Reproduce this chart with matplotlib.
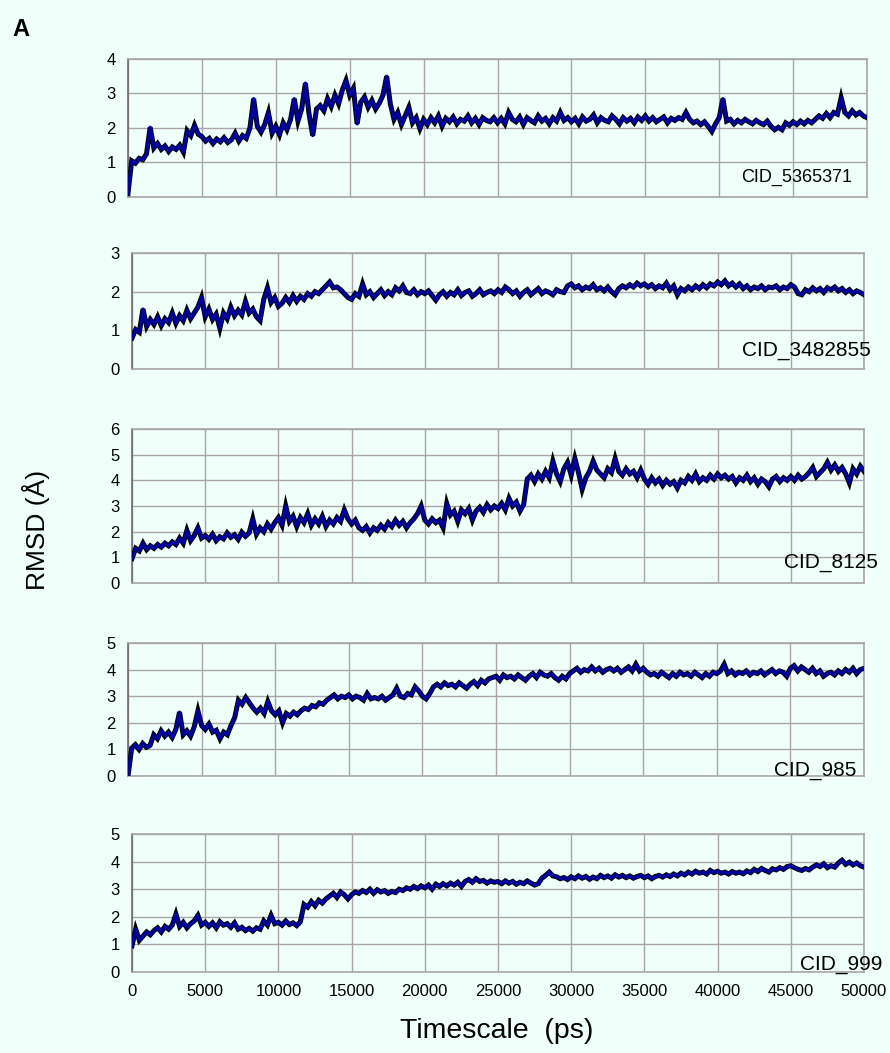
import numpy as np
import matplotlib
matplotlib.use("Agg")
import matplotlib.pyplot as plt

plt.rcParams['font.family'] = ['Liberation Sans', 'DejaVu Sans']

# time axis (ps), 250 ps step
time_ps = np.arange(0, 50001, 250)

cid_5365371 = [
    0.10, 1.05, 0.98, 1.12, 1.08, 1.25, 2.02, 1.42, 1.55, 1.38, 1.48, 1.32, 1.45, 1.38, 1.50, 1.30, 1.92, 1.78, 2.08, 1.82,
    1.75, 1.62, 1.70, 1.55, 1.68, 1.60, 1.72, 1.58, 1.66, 1.85, 1.62, 1.78, 1.70, 2.00, 2.85, 2.05, 1.88, 2.10, 2.45, 1.85,
    2.05, 1.80, 2.15, 1.95, 2.25, 2.85, 2.20, 2.55, 3.30, 2.40, 1.78, 2.55, 2.65, 2.50, 2.85, 2.62, 2.95, 2.70, 3.10, 3.38,
    2.95, 3.15, 2.12, 2.75, 2.90, 2.60, 2.80, 2.55, 2.72, 2.95, 3.50, 2.70, 2.25, 2.45, 2.10, 2.35, 2.60, 2.15, 2.30, 1.98,
    2.25, 2.10, 2.30, 2.15, 2.35, 2.05, 2.28, 2.18, 2.32, 2.12, 2.25, 2.20, 2.35, 2.15, 2.28, 2.10, 2.30, 2.22, 2.18, 2.30,
    2.15, 2.28, 2.12, 2.45, 2.25, 2.18, 2.32, 2.10, 2.30, 2.22, 2.15, 2.35, 2.20, 2.28, 2.12, 2.30, 2.20, 2.45, 2.22, 2.30,
    2.18, 2.28, 2.12, 2.32, 2.20, 2.25, 2.38, 2.15, 2.30, 2.22, 2.18, 2.35, 2.25, 2.12, 2.30, 2.20, 2.28, 2.15, 2.32, 2.22,
    2.35, 2.20, 2.30, 2.18, 2.25, 2.32, 2.15, 2.28, 2.22, 2.30, 2.25, 2.45, 2.25, 2.15, 2.20, 2.10, 2.18, 2.05, 1.90, 2.12,
    2.30, 2.85, 2.20, 2.25, 2.12, 2.22, 2.15, 2.25, 2.18, 2.12, 2.22, 2.15, 2.10, 2.20, 2.05, 1.95, 2.02, 1.95, 2.15, 2.08,
    2.18, 2.10, 2.20, 2.12, 2.22, 2.15, 2.25, 2.35, 2.28, 2.42, 2.30, 2.45, 2.40, 2.88, 2.45, 2.35, 2.50, 2.38, 2.45, 2.35,
    2.30,
]

cid_3482855 = [
    0.80, 1.02, 0.95, 1.55, 1.10, 1.28, 1.15, 1.35, 1.12, 1.30, 1.20, 1.45, 1.18, 1.38, 1.25, 1.52, 1.30, 1.45, 1.60, 1.85,
    1.35, 1.55, 1.28, 1.42, 1.05, 1.45, 1.30, 1.60, 1.38, 1.52, 1.40, 1.75, 1.45, 1.55, 1.35, 1.25, 1.80, 2.10, 1.72, 1.85,
    1.62, 1.70, 1.85, 1.72, 1.90, 1.75, 1.88, 1.80, 1.95, 1.88, 2.00, 1.95, 2.05, 2.15, 2.25, 2.10, 2.12, 2.05, 1.95, 1.85,
    1.80, 1.95, 1.88, 2.20, 1.92, 2.00, 1.85, 1.95, 2.05, 1.90, 2.00, 1.92, 2.10, 2.02, 2.15, 1.98, 1.95, 2.05, 1.92, 2.00,
    1.95, 2.02, 1.90, 1.78, 1.92, 2.00, 1.88, 1.98, 1.92, 2.05, 1.90, 1.98, 2.02, 1.88, 1.95, 2.05, 1.92, 1.98, 2.02, 1.95,
    2.05, 1.98, 2.12, 2.05, 1.95, 2.02, 1.88, 1.98, 2.05, 1.92, 2.00, 2.08, 1.95, 2.02, 1.98, 1.92, 2.05, 2.00, 1.98, 2.15,
    2.20, 2.10, 2.15, 2.05, 2.12, 2.08, 2.18, 2.05, 2.10, 2.02, 2.12, 2.00, 1.92, 2.08, 2.15, 2.10, 2.18, 2.12, 2.22, 2.15,
    2.20, 2.12, 2.18, 2.08, 2.15, 2.10, 2.22, 2.05, 2.15, 1.92, 2.08, 2.02, 2.12, 2.05, 2.15, 2.08, 2.18, 2.10, 2.20, 2.15,
    2.25, 2.18, 2.28, 2.15, 2.22, 2.12, 2.20, 2.08, 2.15, 2.05, 2.12, 2.08, 2.15, 2.05, 2.12, 2.10, 2.15, 2.05, 2.12, 2.08,
    2.18, 2.12, 1.95, 1.92, 2.05, 2.00, 2.10, 2.02, 2.08, 1.98, 2.10, 2.05, 2.12, 2.02, 2.08, 1.98, 2.05, 1.95, 2.02, 1.98,
    1.92,
]

cid_8125 = [
    0.95, 1.35, 1.25, 1.55, 1.30, 1.45, 1.35, 1.50, 1.40, 1.55, 1.45, 1.60, 1.50, 1.75, 1.55, 2.05, 1.65, 1.85, 2.15, 1.75,
    1.85, 1.70, 1.90, 1.65, 1.80, 1.72, 1.95, 1.78, 1.88, 1.70, 1.98, 1.82, 1.95, 2.50, 1.90, 2.15, 2.00, 2.30, 2.10, 2.35,
    2.55, 2.25, 3.00, 2.40, 2.60, 2.20, 2.55, 2.35, 2.70, 2.25, 2.50, 2.30, 2.60, 2.20, 2.45, 2.30, 2.55, 2.40, 2.85, 2.50,
    2.30, 2.45, 2.15, 2.05, 2.20, 1.95, 2.15, 2.05, 2.25, 2.10, 2.35, 2.20, 2.45, 2.25, 2.40, 2.15, 2.35, 2.50, 2.70, 3.00,
    2.45, 2.30, 2.50, 2.35, 2.45, 2.15, 3.10, 2.65, 2.80, 2.40, 2.85, 2.70, 2.90, 2.45, 2.80, 2.95, 2.75, 3.05, 2.85, 3.00,
    2.90, 3.10, 2.85, 3.30, 3.00, 3.15, 2.80, 3.05, 4.05, 4.20, 3.95, 4.25, 4.05, 4.35, 4.10, 4.75, 4.25, 3.95, 4.45, 4.70,
    4.20, 4.85, 4.30, 3.65, 4.10, 4.35, 4.75, 4.40, 4.25, 4.10, 4.45, 4.30, 4.85, 4.35, 4.20, 4.45, 4.25, 4.35, 4.10, 4.40,
    4.05, 3.85, 4.10, 3.90, 4.05, 3.80, 4.00, 3.85, 3.95, 3.70, 4.00, 3.90, 4.15, 4.00, 4.25, 3.95, 4.10, 4.00, 4.20, 4.05,
    4.25, 4.10, 4.20, 4.05, 4.15, 3.90, 4.10, 4.00, 4.20, 3.95, 4.10, 3.85, 4.05, 3.95, 3.75, 4.05, 4.15, 3.95, 4.10, 4.00,
    4.15, 4.00, 4.20, 4.05, 4.15, 4.30, 4.50, 4.15, 4.30, 4.45, 4.70, 4.40, 4.60, 4.35, 4.50, 4.25, 3.90, 4.45, 4.25, 4.55,
    4.35,
]

cid_985 = [
    0.00, 1.05, 1.18, 1.00, 1.22, 1.08, 1.15, 1.55, 1.40, 1.70, 1.50, 1.65, 1.45, 1.75, 2.40, 1.55, 1.70, 1.50, 1.85, 2.45,
    1.90, 1.75, 1.95, 1.65, 1.72, 1.40, 1.65, 1.55, 1.90, 2.20, 2.85, 2.70, 2.95, 2.75, 2.55, 2.40, 2.55, 2.35, 2.80, 2.45,
    2.30, 2.45, 2.00, 2.35, 2.25, 2.40, 2.30, 2.45, 2.55, 2.50, 2.65, 2.60, 2.75, 2.70, 2.85, 2.95, 3.05, 2.90, 3.00, 2.95,
    3.05, 2.90, 3.00, 2.95, 2.85, 3.10, 2.90, 2.95, 2.90, 3.00, 2.85, 2.95, 3.05, 3.30, 3.00, 2.95, 3.10, 3.05, 3.35, 3.20,
    3.00, 2.90, 3.10, 3.35, 3.45, 3.35, 3.50, 3.40, 3.45, 3.35, 3.50, 3.40, 3.30, 3.45, 3.55, 3.40, 3.60, 3.50, 3.65, 3.70,
    3.75, 3.60, 3.80, 3.70, 3.75, 3.65, 3.80, 3.70, 3.60, 3.75, 3.85, 3.70, 3.90, 3.80, 3.75, 3.85, 3.70, 3.60, 3.75, 3.65,
    3.85, 3.95, 4.05, 3.90, 4.00, 3.95, 4.10, 3.95, 4.05, 3.90, 4.00, 4.05, 3.95, 4.05, 3.90, 4.00, 4.10, 3.95, 4.20, 3.95,
    4.05, 3.90, 3.80, 3.85, 3.75, 3.90, 3.80, 3.70, 3.85, 3.75, 3.90, 3.80, 3.85, 3.75, 3.90, 3.80, 3.70, 3.85, 3.75, 3.90,
    3.85, 3.95, 4.20, 3.85, 3.95, 3.80, 3.90, 3.85, 3.95, 3.80, 3.90, 3.85, 3.95, 3.80, 3.90, 4.00, 3.85, 3.95, 3.90, 3.75,
    4.05, 4.15, 3.95, 4.10, 4.00, 3.90, 4.05, 3.85, 3.95, 3.75, 3.85, 3.90, 3.80, 3.95, 3.85, 4.00, 3.90, 4.05, 3.85, 4.00,
    4.05,
]

cid_999 = [
    0.95, 1.55, 1.15, 1.30, 1.45, 1.35, 1.50, 1.60, 1.45, 1.65, 1.55, 1.70, 2.10, 1.65, 1.80, 1.60, 1.75, 1.85, 2.05, 1.70,
    1.80, 1.65, 1.78, 1.60, 1.82, 1.70, 1.75, 1.62, 1.78, 1.55, 1.62, 1.50, 1.58, 1.48, 1.60, 1.55, 1.85, 1.70, 2.05, 1.75,
    1.80, 1.70, 1.85, 1.72, 1.78, 1.68, 1.82, 2.45, 2.35, 2.55, 2.40, 2.60, 2.50, 2.65, 2.75, 2.85, 2.70, 2.90, 2.80, 2.65,
    2.80, 2.90, 2.85, 2.95, 2.88, 3.00, 2.85, 2.98, 2.90, 2.95, 2.85, 2.92, 2.88, 3.00, 2.95, 3.05, 3.00, 3.10, 3.02, 3.12,
    3.05, 3.15, 3.00, 3.18, 3.10, 3.20, 3.12, 3.22, 3.15, 3.25, 3.10, 3.28, 3.35, 3.25, 3.38, 3.28, 3.32, 3.22, 3.30, 3.25,
    3.28, 3.20, 3.30, 3.22, 3.28, 3.18, 3.25, 3.20, 3.30, 3.22, 3.15, 3.20, 3.40, 3.50, 3.62, 3.48, 3.45, 3.38, 3.42, 3.35,
    3.45, 3.38, 3.48, 3.40, 3.46, 3.36, 3.44, 3.38, 3.50, 3.42, 3.48, 3.40, 3.52, 3.44, 3.50, 3.42, 3.48, 3.40, 3.46, 3.50,
    3.42, 3.48, 3.38, 3.46, 3.50, 3.44, 3.52, 3.46, 3.55, 3.48, 3.58, 3.52, 3.62, 3.55, 3.65, 3.58, 3.62, 3.55, 3.68, 3.60,
    3.65, 3.58, 3.62, 3.55, 3.64, 3.58, 3.62, 3.56, 3.66, 3.60, 3.72, 3.64, 3.75, 3.68, 3.62, 3.74, 3.70, 3.78, 3.72, 3.82,
    3.85, 3.78, 3.72, 3.68, 3.75, 3.70, 3.80, 3.88, 3.82, 3.92, 3.78, 3.85, 3.80, 3.95, 4.05, 3.90, 3.98, 3.88, 3.95, 3.85,
    3.80,
]

series = [cid_5365371, cid_3482855, cid_8125, cid_985, cid_999]
labels = ["CID_5365371", "CID_3482855", "CID_8125", "CID_985", "CID_999"]
ymax = [4, 3, 6, 5, 5]
xticks = [0, 5000, 10000, 15000, 20000, 25000, 30000, 35000, 40000, 45000, 50000]

W, H = 890, 1053
bg = "#F0FFFA"
fig = plt.figure(figsize=(W / 100, H / 100), dpi=100, facecolor=bg)

# axes boxes in pixels: left, right, top, bottom
boxes = [(128, 867, 59, 197), (132, 864, 253, 369), (132, 864, 429, 583),
         (128, 864, 643, 776), (132, 864, 834, 972)]
lab_pos = [(852, 177, 13), (871, 350, 15), (878, 562, 15), (856, 770, 15), (882, 964, 15)]

grid_c = "#A9A5AA"
for i, (vals, lab, ym, box) in enumerate(zip(series, labels, ymax, boxes)):
    l, r, t, b = box
    ax = fig.add_axes([l / W, 1 - b / H, (r - l) / W, (b - t) / H])
    ax.set_facecolor(bg)
    ax.plot(time_ps, vals, color="black", lw=3.6, zorder=3, solid_joinstyle="miter")
    ax.plot(time_ps, vals, color="#00009A", lw=2.4, zorder=4)
    ax.set_xlim(0, 50000)
    ax.set_ylim(0, ym)
    ax.set_yticks(range(0, ym + 1))
    ax.set_xticks(xticks)
    ax.grid(True, color=grid_c, lw=1.0, zorder=1)
    for s in ax.spines.values():
        s.set_color(grid_c)
        s.set_linewidth(1.2)
    ax.spines['left'].set_color("#6E6A70")
    ax.tick_params(length=0, labelsize=12, pad=9, colors="black")
    if i < 4:
        ax.tick_params(labelbottom=False)
    else:
        ax.set_xticklabels([str(x) for x in xticks])
    lx, ly, fs = lab_pos[i]
    fig.text(lx / W, 1 - ly / H, lab, ha="right", va="center", fontsize=fs, zorder=10)

fig.text(21 / W, 1 - 29 / H, "A", fontsize=17, fontweight="bold", ha="center", va="center")
fig.text(36 / W, 1 - 530 / H, "RMSD (Å)", fontsize=19, rotation=90, ha="center", va="center")
fig.text(497 / W, 1 - 1031 / H, "Timescale  (ps)", fontsize=20.5, ha="center", va="center")

fig.savefig("out.png", dpi=100, facecolor=bg)
